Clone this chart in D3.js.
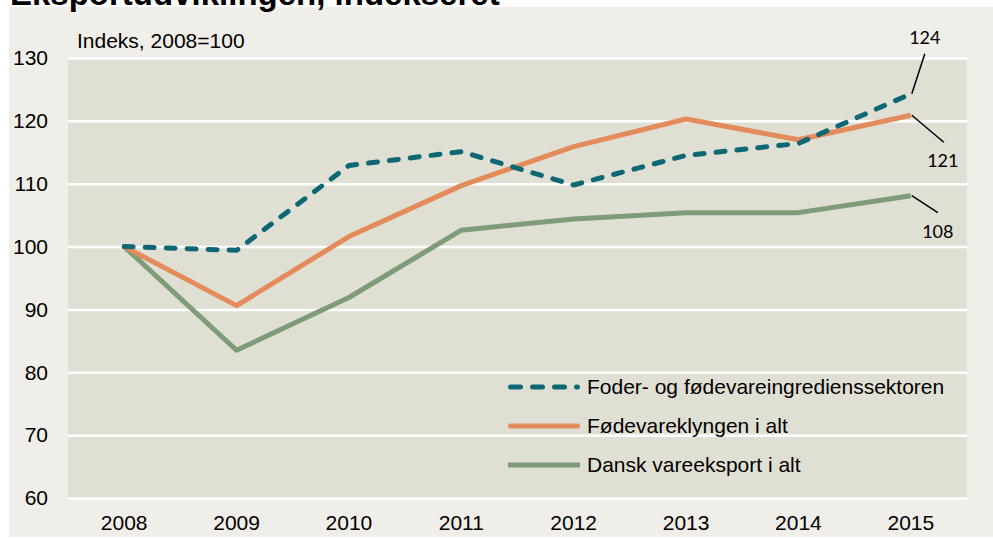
<!DOCTYPE html>
<html><head><meta charset="utf-8">
<script src="https://cdn.jsdelivr.net/npm/d3@7"></script>
<style>body{margin:0;background:#fff;} svg{display:block;font-family:"Liberation Sans",Arial,sans-serif;}</style>
</head><body><svg id="c" width="993" height="539"></svg>
<script>
const years = ["2008","2009","2010","2011","2012","2013","2014","2015"];
const foder = [100, 99.4, 112.9, 115.1, 109.8, 114.5, 116.4, 124.3];
const klyngen = [100, 90.6, 101.6, 109.7, 115.9, 120.3, 117.0, 120.9];
const dansk = [100, 83.5, 91.9, 102.6, 104.4, 105.4, 105.4, 108.1];
const yTicks = [60,70,80,90,100,110,120,130];
const seriesNames = ["Foder- og fødevareingredienssektoren","Fødevareklyngen i alt","Dansk vareeksport i alt"];
const endLabels = ["124","121","108"];

const FS = 21;
const svg = d3.select("#c");
svg.append("rect").attr("x",9).attr("y",7).attr("width",984).attr("height",530).attr("fill","#efeee8");
svg.append("text").attr("x",10).attr("y",5).attr("font-size",33).attr("font-weight","bold").attr("fill","#000").text("Eksportudviklingen, indekseret");

const m = {l:68, r:967, t:58, b:498};
const x = d3.scaleBand().domain(years).range([m.l,m.r]);
const y = d3.scaleLinear().domain([60,130]).range([m.b,m.t]);

svg.append("rect").attr("x",m.l).attr("y",m.t).attr("width",m.r-m.l).attr("height",m.b-m.t).attr("fill","#e0dfd4");

const yAxis = svg.append("g").attr("transform",`translate(${m.l},0)`)
  .call(d3.axisLeft(y).tickValues(yTicks).tickSize(-(m.r-m.l)).tickPadding(20));
yAxis.select(".domain").remove();
yAxis.selectAll(".tick line").attr("stroke","#fff").attr("stroke-width",2.5);
yAxis.selectAll(".tick text").attr("font-size",FS).attr("fill","#000").attr("font-family","Liberation Sans, Arial, sans-serif");

const xAxis = svg.append("g").attr("transform",`translate(0,${m.b})`)
  .call(d3.axisBottom(x).tickSize(0).tickPadding(17));
xAxis.select(".domain").remove();
xAxis.selectAll(".tick text").attr("font-size",FS).attr("fill","#000").attr("font-family","Liberation Sans, Arial, sans-serif");

svg.append("text").attr("x",77).attr("y",48).attr("font-size",FS).attr("fill","#000").text("Indeks, 2008=100");

const cx = d => x(d) + x.bandwidth()/2;
const line = d3.line().x((d,i)=>cx(years[i])).y(d=>y(d));
const styles = [
  {data:foder, color:"#0d6874", dash:"9,12"},
  {data:klyngen, color:"#e38b5b", dash:null},
  {data:dansk, color:"#7f9c79", dash:null}
];
[2,1,0].forEach(i=>{
  const s = styles[i];
  svg.append("path").datum(s.data).attr("d",line).attr("fill","none")
    .attr("stroke",s.color).attr("stroke-width",5)
    .attr("stroke-linejoin","round").attr("stroke-linecap", s.dash? "round":"butt")
    .attr("stroke-dasharray", s.dash);
});

const last = years.length-1;
const lx = cx(years[last]);
const ann = [
  {v:foder[last], dx:14, dy:-40, tx:14, ty:-50},
  {v:klyngen[last], dx:33, dy:27, tx:32, ty:52},
  {v:dansk[last], dx:27, dy:17, tx:27, ty:42}
];
ann.forEach((a,i)=>{
  const py = y(a.v);
  svg.append("line").attr("x1",lx+1).attr("y1",py).attr("x2",lx+a.dx).attr("y2",py+a.dy)
    .attr("stroke","#000").attr("stroke-width",1.5);
  svg.append("text").attr("x",lx+a.tx).attr("y",py+a.ty).attr("text-anchor","middle")
    .attr("font-size",18).attr("font-family","Lato, 'Open Sans', sans-serif").attr("fill","#000").text(endLabels[i]);
});

const lg = svg.append("g");
const legY = [387,426,465];
styles.forEach((s,i)=>{
  lg.append("line").attr("x1",s.dash?510.5:510.5).attr("x2",577.5).attr("y1",legY[i]).attr("y2",legY[i])
    .attr("stroke",s.color).attr("stroke-width",5)
    .attr("stroke-linecap", i===2 ? "butt" : "round").attr("stroke-dasharray",s.dash?"10,12":null)
    .attr("x1", i===2 ? 508 : 510.5).attr("x2", i===2 ? 580 : 577.5);
  lg.append("text").attr("x",587).attr("y",legY[i]+7).attr("font-size",FS).attr("fill","#000").text(seriesNames[i]);
});
</script></body></html>
